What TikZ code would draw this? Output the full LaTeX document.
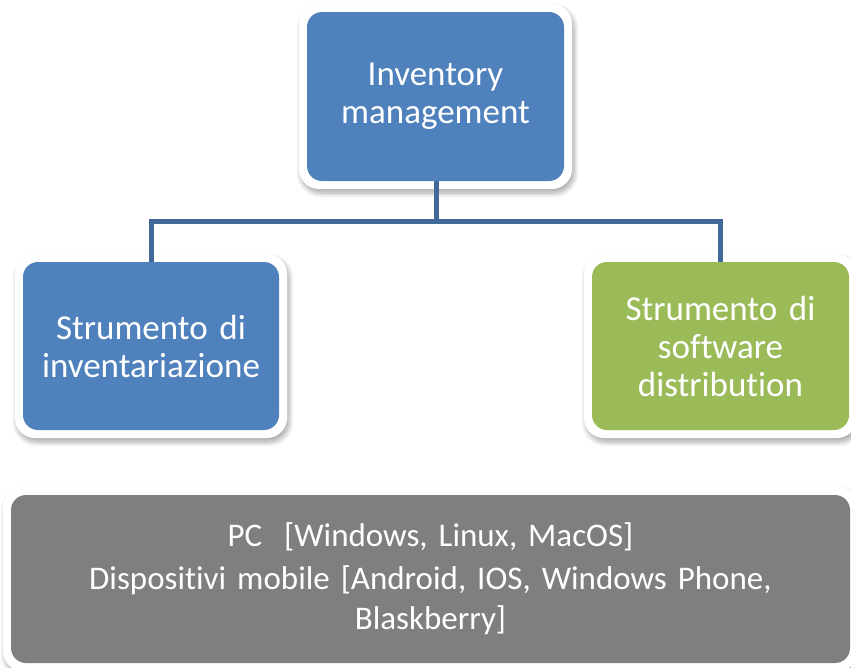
\documentclass[tikz,border=0pt]{standalone}
\usepackage{fontspec}
\setmainfont{Carlito}[Ligatures=CommonOff]
\usetikzlibrary{shadows.blur}
\definecolor{boxblue}{HTML}{4F81BD}
\definecolor{boxgreen}{HTML}{9BBB59}
\definecolor{boxgray}{HTML}{7F7F7F}
\definecolor{linkblue}{HTML}{41699A}
\tikzset{
  rim/.style={fill=white, draw=none, rounded corners=20pt, inner sep=0pt,
    blur shadow={shadow xshift=2pt, shadow yshift=-4pt, shadow blur steps=10, shadow opacity=35, shadow blur radius=5pt}},
  card/.style={draw=none, rounded corners=15pt, inner sep=0pt, text=white, align=center,
    font=\fontsize{35}{38}\selectfont},
  link/.style={draw=linkblue, line width=5pt}
}
\begin{document}
\begin{tikzpicture}[x=1pt,y=-1pt]
\useasboundingbox (0,0) rectangle (851,667);
% rims
\node[rim, minimum width=273pt, minimum height=185pt] (rtop) at (435.5,96.5) {};
\node[rim, minimum width=272pt, minimum height=184pt] (rleft) at (151,346) {};
\node[rim, minimum width=273pt, minimum height=184pt] (rright) at (720.5,346) {};
\node[rim, minimum width=855pt, minimum height=184pt] (rbottom) at (430.5,579) {};
% cards
\node[card, fill=boxblue, minimum width=257pt, minimum height=169pt, text width=250pt] (top) at (435.5,96.5) {\raisebox{-3pt}{Inventory}\\\raisebox{-3pt}{management}};
\node[card, fill=boxblue, minimum width=256pt, minimum height=168pt, text width=250pt] (left) at (151,346) {Strumento di\\inventariazione};
\node[card, fill=boxgreen, minimum width=257pt, minimum height=168pt, text width=250pt] (right) at (720.5,346) {Strumento di\\software\\distribution};
\node[card, fill=boxgray, minimum width=839pt, minimum height=168pt, text width=820pt,
  font=\fontsize{33}{40}\selectfont] (bottom) at (430.5,579)
  {PC\ \ [Windows, Linux, MacOS]\\[3pt]Dispositivi mobile [Android, IOS, Windows Phone,\\Blaskberry]};
% connectors
\coordinate (mid) at (436,221);
\draw[link] (top.south -| mid) -- (mid);
\draw[link] (left.north) |- (mid) -| (right.north);
\end{tikzpicture}
\end{document}
